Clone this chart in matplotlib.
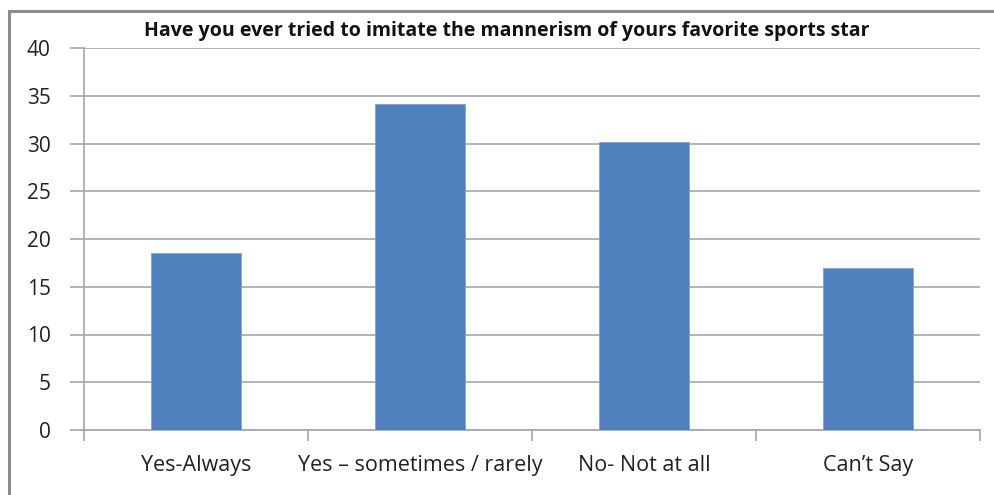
import matplotlib.pyplot as plt
from matplotlib.patches import Rectangle

categories = ["Yes-Always", "Yes \u2013 sometimes / rarely", "No- Not at all", "Can\u2019t Say"]
values = [18.5, 34.1, 30.2, 17.0]
y_ticks = [0, 5, 10, 15, 20, 25, 30, 35, 40]

W, H = 995, 495
fig = plt.figure(figsize=(W / 100, H / 100), dpi=100)
plt.rcParams['font.family'] = ['Open Sans', 'DejaVu Sans']

# outer frame, runs off the right and bottom edges
fig.patches.append(Rectangle((9 / W, -0.05), 1.2, 1 - 11 / H + 0.05,
                             transform=fig.transFigure, fill=False,
                             edgecolor='#8c8c8c', linewidth=2.2))

ax = fig.add_axes([84 / W, 1 - 430 / H, (980 - 84) / W, (430 - 48) / H])
x = range(len(categories))
ax.bar(x, values, width=0.40, color='#4f81bd', edgecolor='#7fa3d0',
       linewidth=0.6, zorder=3)

ax.set_xlim(-0.5, len(categories) - 0.5)
ax.set_ylim(0, 40)
ax.set_yticks(y_ticks)
ax.set_yticklabels([str(t) for t in y_ticks], fontsize=15, color='#222222')
ax.yaxis.grid(True, color='#a6a6a6', linewidth=1.2, zorder=0)

ax.set_xticks([i - 0.5 for i in range(len(categories) + 1)])
ax.set_xticklabels([])
ax.tick_params(axis='x', length=8, width=1.2, color='#a6a6a6')
ax.tick_params(axis='y', length=10, width=1.2, color='#a6a6a6', pad=14)
for i, c in enumerate(categories):
    ax.text(i, -3.7, c, ha='center', va='center', fontsize=15.5, color='#222222')

for s in ['top', 'right']:
    ax.spines[s].set_visible(False)
for s in ['left', 'bottom']:
    ax.spines[s].set_color('#a6a6a6')
    ax.spines[s].set_linewidth(1.2)

fig.text(507 / W, 1 - 31 / H,
         "Have you ever tried to imitate the mannerism of yours favorite sports star",
         ha='center', va='center', fontsize=14, fontweight='bold', color='#111111')

fig.savefig("out.png", dpi=100)
